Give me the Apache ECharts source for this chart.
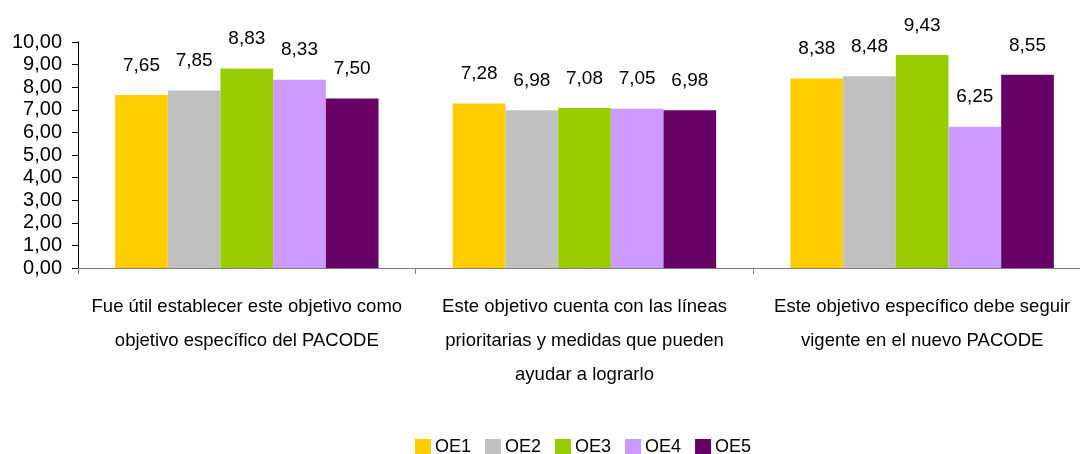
<!DOCTYPE html>
<html>
<head>
<meta charset="utf-8">
<script src="https://cdn.jsdelivr.net/npm/echarts@6/dist/echarts.min.js"></script>
<style>
html,body{margin:0;padding:0;background:#fff;overflow:hidden;width:1080px;height:454px;}
#chart{width:1091px;height:454px;}
</style>
</head>
<body>
<div id="chart"></div>
<script>
// Survey statements (x-axis categories)
const categories = [
  'Fue útil establecer este objetivo como\nobjetivo específico del PACODE',
  'Este objetivo cuenta con las líneas\nprioritarias y medidas que pueden\nayudar a lograrlo',
  'Este objetivo específico debe seguir\nvigente en el nuevo PACODE'
];
const seriesNames = ['OE1', 'OE2', 'OE3', 'OE4', 'OE5'];
const oe1 = [7.65, 7.28, 8.38];
const oe2 = [7.85, 6.98, 8.48];
const oe3 = [8.83, 7.08, 9.43];
const oe4 = [8.33, 7.05, 6.25];
const oe5 = [7.50, 6.98, 8.55];
const colors = ['#FFCC00', '#C0C0C0', '#99CC00', '#CC99FF', '#660066'];

const fmt = v => v.toFixed(2).replace('.', ',');
const FONT = '"Liberation Sans", Arial, sans-serif';

// plot area runs a little past the right edge of the visible page
const chart = echarts.init(document.getElementById('chart'), null, {renderer: 'canvas'});
const values = [oe1, oe2, oe3, oe4, oe5];

chart.setOption({
  animation: false,
  color: colors,
  grid: {left: 78, right: 0, top: 42, bottom: 186, containLabel: false},
  legend: {
    left: 410, top: 433,
    itemWidth: 16, itemHeight: 16, itemGap: 14,
    icon: 'rect',
    textStyle: {fontFamily: FONT, fontSize: 18, color: '#000', padding: [0, 0, 0, -1]},
    data: seriesNames
  },
  xAxis: {
    type: 'category',
    data: categories,
    axisLine: {lineStyle: {color: '#808080', width: 1}},
    axisTick: {show: true, length: 6, lineStyle: {color: '#808080'}},
    axisLabel: {
      fontFamily: FONT, fontSize: 18.5, color: '#000', lineHeight: 34,
      margin: 22, interval: 0
    }
  },
  yAxis: {
    type: 'value', min: 0, max: 10, interval: 1,
    splitLine: {show: false},
    axisLine: {show: true, lineStyle: {color: '#000', width: 1}},
    axisTick: {show: true, length: 6, lineStyle: {color: '#000'}},
    axisLabel: {
      fontFamily: FONT, fontSize: 20, color: '#000', margin: 16,
      formatter: v => fmt(v)
    }
  },
  series: seriesNames.map((name, i) => ({
    name: name,
    type: 'bar',
    data: values[i],
    barGap: '0%',
    barCategoryGap: '22%',
    label: {
      show: true, position: 'top', distance: 20,
      fontFamily: FONT, fontSize: 19, color: '#000',
      formatter: p => fmt(p.value)
    }
  }))
});
</script>
</body>
</html>
